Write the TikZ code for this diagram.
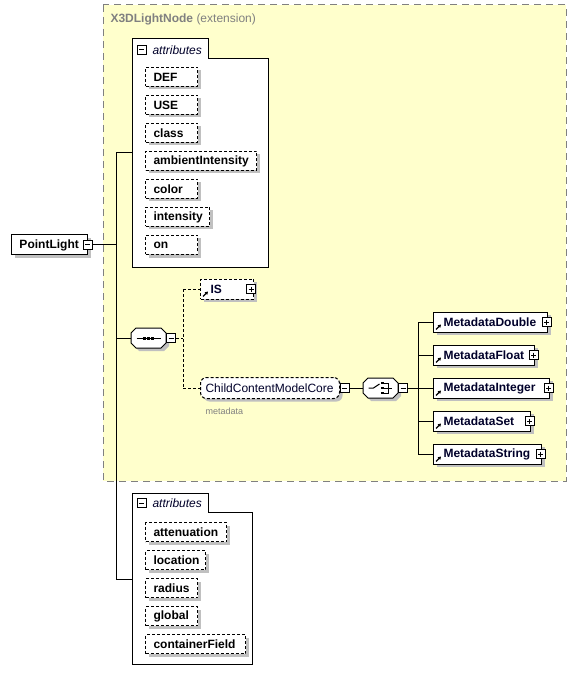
\documentclass[tikz,border=0pt]{standalone}
\usepackage{fontspec}
\setmainfont{Liberation Sans}
\usetikzlibrary{shadows,calc,arrows.meta}
\definecolor{ybg}{HTML}{FFFFCC}
\definecolor{shd}{HTML}{C0C0C0}
\definecolor{ttl}{HTML}{808080}
\definecolor{nav}{HTML}{00002A}
\begin{document}
\begin{tikzpicture}[x=1pt,y=-1pt,line width=1pt,
  shadowed/.style={general shadow={fill=shd,shadow xshift=3pt,shadow yshift=-3pt}},
  attr/.style={draw,dash pattern=on 3pt off 2pt,fill=white,shadowed,inner xsep=8pt,inner ysep=0pt,
    minimum height=19pt,align=left,anchor=west,font=\fontsize{12}{14}\selectfont\bfseries},
  elem/.style={draw,fill=white,shadowed,inner xsep=10pt,inner ysep=0pt,
    minimum height=20pt,align=left,anchor=west,font=\fontsize{12}{14}\selectfont\bfseries,text=nav},
  pmbox/.style={draw,fill=white,minimum size=9pt,inner sep=0pt},
  mbox/.pic={\node[pmbox](-box){}; \draw (-2.5,0)--(2.5,0);},
  pbox/.pic={\node[pmbox](-box){}; \draw (-2.5,0)--(2.5,0) (0,-2.5)--(0,2.5);},
  octpath/.style={},
  octo/.pic={
    \fill[shd] (-14.5,-2)--(-9.5,-7)--(15.5,-7)--(20.5,-2)--(20.5,8)--(15.5,13)--(-9.5,13)--(-14.5,8)--cycle;
    \draw[fill=white] (-17.5,-5)--(-12.5,-10)--(12.5,-10)--(17.5,-5)--(17.5,5)--(12.5,10)--(-12.5,10)--(-17.5,5)--cycle;
    \node[minimum width=35pt,minimum height=20pt,inner sep=0pt] (-n) {};
  },
  conn/.style={line width=1pt},
  dconn/.style={line width=1pt,dash pattern=on 3pt off 2pt},
  refarrow/.style={line width=1.2pt,-{Triangle[length=3pt,width=3.5pt]}},
  abox/.style={draw,fill=white,line width=1pt},
  attrlabel/.style={anchor=west,inner sep=0pt,font=\fontsize{12}{14}\selectfont\itshape,text=nav}
]
\useasboundingbox (0,0) rectangle (579,684);
% extension region
\draw[fill=ybg,draw=ttl,dash pattern=on 7pt off 5pt] (103,5) rectangle (566,481);
\node[anchor=west,inner sep=0pt,font=\fontsize{12}{14}\selectfont,text=ttl] (ext) at (110,19)
  {\textbf{X3DLightNode} (extension)};

% root element
\node[elem,text=black,inner xsep=8pt,text width=60pt,minimum height=20pt] (pl) at (11,245) {PointLight};
\pic (m1) at (87.5,245) {mbox};

% attributes group 1
\draw[abox] (132,39) -- (208,39) -- (208,59) -- (268,59) -- (268,267) -- (132,267) -- cycle;
\pic (ma) at (141.5,50) {mbox};
\node[attrlabel] (alab1) at (152,50) {attributes};
\coordinate (ab1) at (132,153);
\node[attr,text width=36pt] (def) at (145,77) {DEF};
\node[attr,text width=36pt] (use) at (145,105) {USE};
\node[attr,text width=36pt] (cls) at (145,133) {class};
\node[attr,text width=95pt] (amb) at (145,161) {ambientIntensity};
\node[attr,text width=36pt] (col) at (145,189) {color};
\node[attr,text width=48pt] (int) at (145,217) {intensity};
\node[attr,text width=36pt] (on) at (145,245) {on};

% sequence
\pic (seq) at (148.5,338) {octo};
\draw ($(seq-n)+(-12,0)$) -- ($(seq-n)+(12,0)$);
\foreach \dx in {-4,0,4} \fill ($(seq-n)+(\dx-1.5,-1.5)$) rectangle ++(3,3);
\pic (m2) at (171,338) {mbox};

% IS
\node[elem,dash pattern=on 3pt off 2pt,text width=33pt] (is) at (200,289) {IS};
\draw[refarrow] ($(is.south west)+(3,-3)$) -- ++(5,-5);
\pic (p1) at (251,289) {pbox};

% ChildContentModelCore
\node[elem,dash pattern=on 3pt off 2pt,rounded corners=6pt,inner xsep=5pt,text width=129pt,
  font=\fontsize{12}{14}\selectfont,minimum height=21pt] (ccm) at (200,388) {ChildContentModelCore};
\pic (m3) at (344.5,388) {mbox};
\node[anchor=west,inner sep=0pt,font=\fontsize{9}{10}\selectfont,text=ttl] (mlab) at (205,411) {metadata};

% choice
\pic (cho) at (380.5,388) {octo};
\draw ($(cho-n)+(-12,0)$) -- ($(cho-n)+(-7,0)$) -- ($(cho-n)+(-1,-4)$);
\foreach \dy in {-5,0,5} {
  \fill ($(cho-n)+(0.5,\dy-1.25)$) rectangle ++(2.5,2.5);
  \draw ($(cho-n)+(3,\dy)$) -- ($(cho-n)+(8,\dy)$);
}
\draw ($(cho-n)+(8,-5)$) -- ($(cho-n)+(8,5)$) ($(cho-n)+(8,0)$) -- ($(cho-n)+(11,0)$);
\pic (m4) at (403,388) {mbox};

% metadata elements
\node[elem,text width=94pt] (md) at (433,322) {MetadataDouble};
\node[elem,text width=81pt] (mf) at (433,355) {MetadataFloat};
\node[elem,text width=96pt] (mi) at (433,388) {MetadataInteger};
\node[elem,text width=77pt] (ms) at (433,421) {MetadataSet};
\node[elem,text width=88pt] (mst) at (433,454) {MetadataString};
\foreach \n in {md,mf,mi,ms,mst} {
  \draw[refarrow] ($(\n.south west)+(3,-3)$) -- ++(5,-5);
  \pic (p\n) at ($(\n.east)+(-1.5,0)$) {pbox};
}

% attributes group 2
\draw[abox] (132,493) -- (208,493) -- (208,512) -- (252,512) -- (252,664) -- (132,664) -- cycle;
\pic (mb) at (141.5,503) {mbox};
\node[attrlabel] (alab2) at (152,503) {attributes};
\coordinate (ab2) at (132,579);
\node[attr,text width=65pt] (att) at (145,532) {attenuation};
\node[attr,text width=44pt] (loc) at (145,560) {location};
\node[attr,text width=36pt] (rad) at (145,588) {radius};
\node[attr,text width=36pt] (glo) at (145,616) {global};
\node[attr,text width=84pt] (cf) at (145,644) {containerField};

% connectors
\coordinate (tA) at (116,153);
\coordinate (tP) at (116,245);
\coordinate (tS) at (116,338);
\coordinate (tB) at (116,579);
\draw[conn] (m1-box.east) -- (tP);
\draw[conn] (tA) -- (tB);
\draw[conn] (tA) -- (ab1);
\draw[conn] (tS) -- (seq-n.west);
\draw[conn] (tB) -- (ab2);
\coordinate (sq) at (183,338);
\coordinate (sqT) at (183,289);
\coordinate (sqB) at (183,388);
\draw[dconn] (m2-box.east) -- (sq);
\draw[dconn] (sqT) -- (sqB);
\draw[dconn] (sqT) -- (is.west);
\draw[dconn] (sqB) -- (ccm.west);
\draw[conn] (m3-box.east) -- (cho-n.west);
\coordinate (ch) at (418,388);
\coordinate (chT) at (418,322);
\coordinate (chB) at (418,454);
\draw[conn] (m4-box.east) -- (ch);
\draw[conn] (chT) -- (chB);
\foreach \n in {md,mf,mi,ms,mst} \draw[conn] (ch |- \n.west) -- (\n.west);
\end{tikzpicture}
\end{document}
